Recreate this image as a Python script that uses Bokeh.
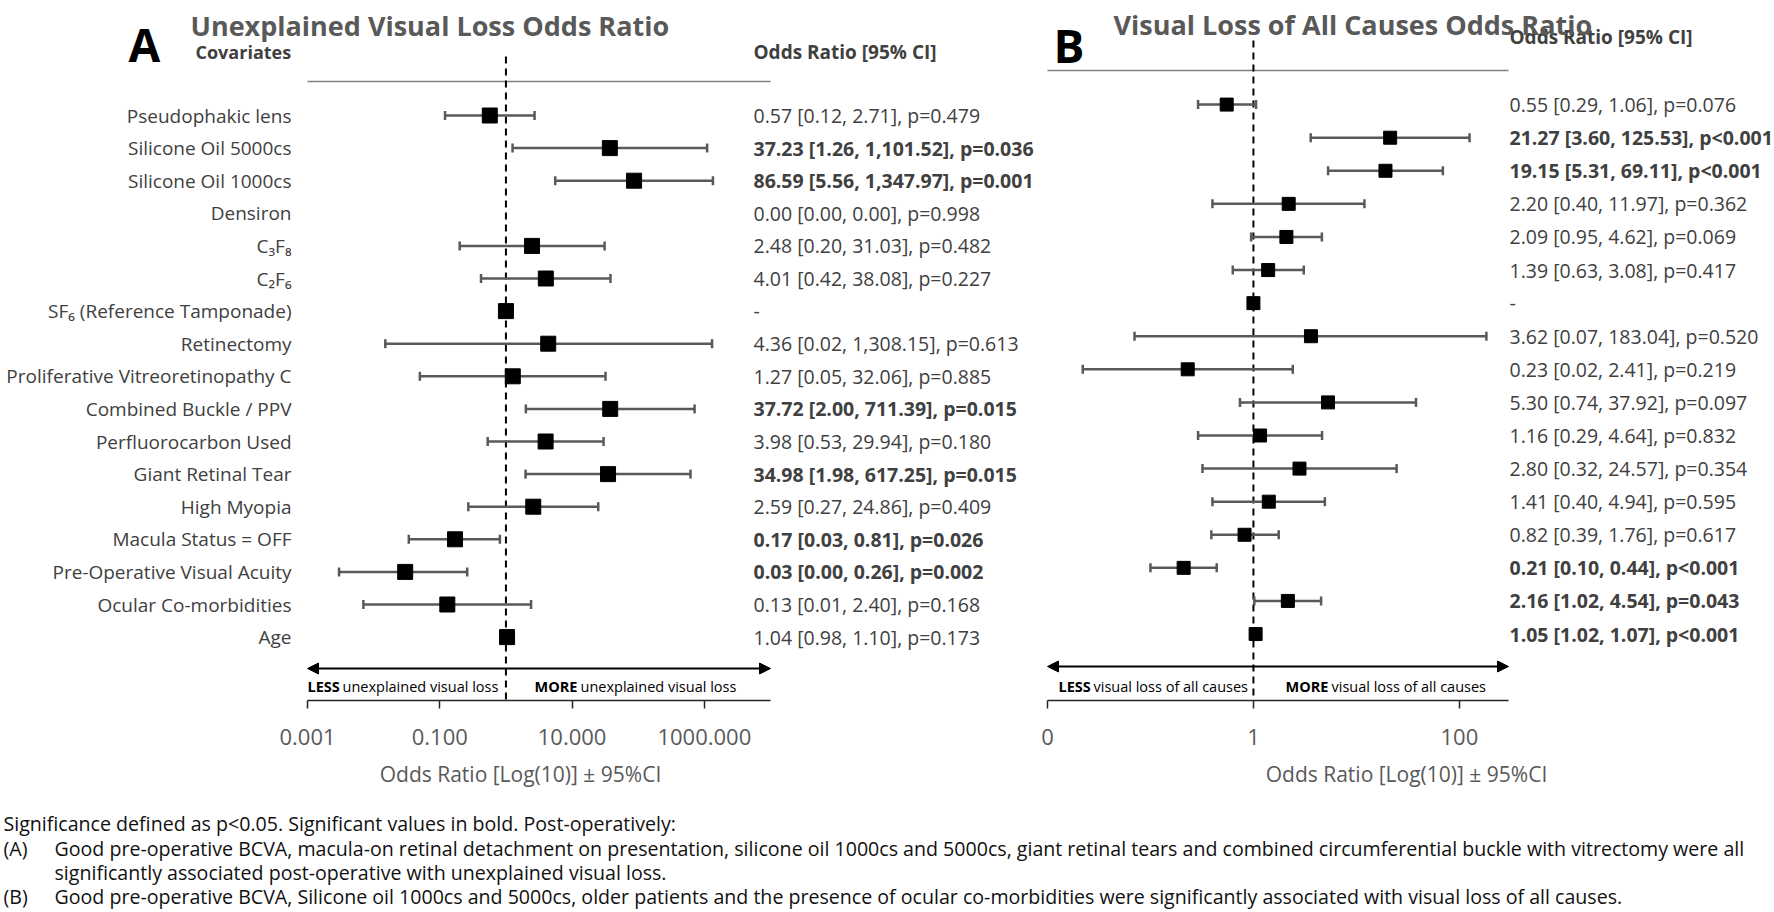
import numpy as np
from bokeh.plotting import figure
from bokeh.models import (ColumnDataSource, Range1d, LogScale, LogAxis, FixedTicker,
                          Arrow, NormalHead)
from bokeh.layouts import column, row
from bokeh.core.properties import value
from bokeh.embed import file_html
from bokeh.resources import INLINE

NaN = float("nan")

# ---------------- data ----------------
covariates = ["Pseudophakic lens", "Silicone Oil 5000cs", "Silicone Oil 1000cs", "Densiron",
              "C\u2083F\u2088", "C\u2082F\u2086", "SF\u2086 (Reference Tamponade)", "Retinectomy",
              "Proliferative Vitreoretinopathy C", "Combined Buckle / PPV", "Perfluorocarbon Used",
              "Giant Retinal Tear", "High Myopia", "Macula Status = OFF",
              "Pre-Operative Visual Acuity", "Ocular Co-morbidities", "Age"]

# Panel A: unexplained visual loss
or_a = [0.57, 37.23, 86.59, NaN, 2.48, 4.01, 1.0, 4.36, 1.27, 37.72, 3.98, 34.98, 2.59, 0.17, 0.03, 0.13, 1.04]
lo_a = [0.12, 1.26, 5.56, NaN, 0.20, 0.42, NaN, 0.015, 0.05, 2.00, 0.53, 1.98, 0.27, 0.034, 0.003, 0.007, 0.98]
hi_a = [2.71, 1101.52, 1347.97, NaN, 31.03, 38.08, NaN, 1308.15, 32.06, 711.39, 29.94, 617.25, 24.86, 0.81, 0.26, 2.40, 1.10]
txt_a = ["0.57 [0.12, 2.71], p=0.479", "37.23 [1.26, 1,101.52], p=0.036", "86.59 [5.56, 1,347.97], p=0.001",
         "0.00 [0.00, 0.00], p=0.998", "2.48 [0.20, 31.03], p=0.482", "4.01 [0.42, 38.08], p=0.227", "-",
         "4.36 [0.02, 1,308.15], p=0.613", "1.27 [0.05, 32.06], p=0.885", "37.72 [2.00, 711.39], p=0.015",
         "3.98 [0.53, 29.94], p=0.180", "34.98 [1.98, 617.25], p=0.015", "2.59 [0.27, 24.86], p=0.409",
         "0.17 [0.03, 0.81], p=0.026", "0.03 [0.00, 0.26], p=0.002", "0.13 [0.01, 2.40], p=0.168",
         "1.04 [0.98, 1.10], p=0.173"]
sig_a = [False, True, True, False, False, False, False, False, False, True, False, True, False, True, True, False, False]

# Panel B: visual loss of all causes
or_b = [0.55, 21.27, 19.15, 2.20, 2.09, 1.39, 1.0, 3.62, 0.23, 5.30, 1.16, 2.80, 1.41, 0.82, 0.21, 2.16, 1.05]
lo_b = [0.29, 3.60, 5.31, 0.40, 0.95, 0.63, NaN, 0.07, 0.022, 0.74, 0.29, 0.32, 0.40, 0.39, 0.10, 1.02, 1.02]
hi_b = [1.06, 125.53, 69.11, 11.97, 4.62, 3.08, NaN, 183.04, 2.41, 37.92, 4.64, 24.57, 4.94, 1.76, 0.44, 4.54, 1.07]
txt_b = ["0.55 [0.29, 1.06], p=0.076", "21.27 [3.60, 125.53], p<0.001", "19.15 [5.31, 69.11], p<0.001",
         "2.20 [0.40, 11.97], p=0.362", "2.09 [0.95, 4.62], p=0.069", "1.39 [0.63, 3.08], p=0.417", "-",
         "3.62 [0.07, 183.04], p=0.520", "0.23 [0.02, 2.41], p=0.219", "5.30 [0.74, 37.92], p=0.097",
         "1.16 [0.29, 4.64], p=0.832", "2.80 [0.32, 24.57], p=0.354", "1.41 [0.40, 4.94], p=0.595",
         "0.82 [0.39, 1.76], p=0.617", "0.21 [0.10, 0.44], p<0.001", "2.16 [1.02, 4.54], p=0.043",
         "1.05 [1.02, 1.07], p<0.001"]
sig_b = [False, True, True, False, False, False, False, False, False, False, False, False, False, False, True, True, True]

ticks_a = [0.001, 0.1, 10, 1000]
tick_labels_a = ["0.001", "0.100", "10.000", "1000.000"]
bounds_a = (0.001, 10000)
ticks_b = [0.01, 1, 100]
tick_labels_b = ["0", "1", "100"]
bounds_b = (0.01, 300)
ref_or = 1.0

title_a = "Unexplained Visual Loss Odds Ratio"
title_b = "Visual Loss of All Causes Odds Ratio"
less_a = ["LESS", "unexplained visual loss", "MORE", "unexplained visual loss"]
less_b = ["LESS", "visual loss of all causes", "MORE", "visual loss of all causes"]
axis_title = "Odds Ratio [Log(10)] \u00b1 95%CI"
foot_lines = ["Significance defined as p<0.05. Significant values in bold. Post-operatively:",
              "Good pre-operative BCVA, macula-on retinal detachment on presentation, silicone oil 1000cs and 5000cs, giant retinal tears and combined circumferential buckle with vitrectomy were all",
              "significantly associated post-operative with unexplained visual loss.",
              "Good pre-operative BCVA, Silicone oil 1000cs and 5000cs, older patients and the presence of ocular co-morbidities were significantly associated with visual loss of all causes."]
foot_tags = ["(A)", "(B)"]

# ---------------- style / layout ----------------
FONT = "Open Sans"
TXT = "#404040"
GREY = "#595959"
FRAME_BOTTOM = 700
TOP = 0
H_ROW = 800
H_NOTE = 111
W_A = 1040
W_B = 732


def txt(p, x, y, text, size, color=TXT, align="left", baseline="middle", style="normal", source=None):
    kw = dict(text_font=value(FONT), text_font_size=value(size), text_color=color,
              text_align=value(align), text_baseline=value(baseline), text_font_style=value(style))
    if source is not None:
        return p.text(x=x, y=y, text=text, source=source, **kw)
    return p.text(x=x, y=y, text=text, **kw)


def panel(cfg):
    left, right = cfg["left"], cfg["right"]
    p = figure(width=right - left, height=H_ROW, x_range=Range1d(left, right),
               y_range=Range1d(FRAME_BOTTOM, TOP), x_axis_type=None, y_axis_type=None,
               toolbar_location=None, output_backend="svg", title=None,
               min_border_left=0, min_border_right=0, min_border_top=0,
               min_border_bottom=H_ROW - FRAME_BOTTOM,
               outline_line_color=None, background_fill_color="white", border_fill_color="white")
    b0, b1 = cfg["bounds"]
    ax0, ax1 = cfg["axis_px"]
    lmin, lmax = np.log10(b0), np.log10(b1)
    per = (lmax - lmin) / (ax1 - ax0)
    p.extra_x_ranges = {"log": Range1d(10 ** (lmin - (ax0 - left) * per), 10 ** (lmax + (right - ax1) * per))}
    p.extra_x_scales = {"log": LogScale()}

    n = len(covariates)
    ys = [cfg["row_top"] + i * cfg["row_step"] for i in range(n)]
    src = ColumnDataSource(dict(y=ys, orv=np.array(cfg["or"], dtype=float),
                                lo=np.array(cfg["lo"], dtype=float), hi=np.array(cfg["hi"], dtype=float),
                                cov=covariates, txt=cfg["txt"]))
    # header rule and reference line
    p.segment(x0=[b0], x1=[b1], y0=[cfg["hdr_line"]], y1=[cfg["hdr_line"]], x_range_name="log",
              line_color="#7f7f7f", line_width=1.5)
    p.segment(x0=[ref_or], x1=[ref_or], y0=[cfg["dash_top"]], y1=[FRAME_BOTTOM], x_range_name="log",
              line_color="black", line_width=2, line_dash="7 5")
    # CI whiskers with caps, then OR squares
    p.segment(x0="lo", x1="hi", y0="y", y1="y", source=src, x_range_name="log",
              line_color=GREY, line_width=2.5)
    for c in ("lo", "hi"):
        p.scatter(x=c, y="y", source=src, x_range_name="log", marker="dash", angle=np.pi / 2,
                  size=9, line_color=GREY, line_width=2.5)
    p.scatter(x="orv", y="y", source=src, x_range_name="log", marker="square",
              size=cfg["msize"], fill_color="black", line_color="black")

    # double arrow with direction captions
    p.add_layout(Arrow(start=NormalHead(size=11, fill_color="black", line_color="black"),
                       end=NormalHead(size=11, fill_color="black", line_color="black"),
                       x_start=b0, x_end=b1, y_start=cfg["arrow_y"], y_end=cfg["arrow_y"],
                       x_range_name="log", line_color="black", line_width=2))
    lx = cfg["less_x"]
    for i, t in enumerate(cfg["less"]):
        txt(p, [lx[i]], [cfg["less_y"]], [t], "14.5px", color="black",
            style="bold" if i % 2 == 0 else "normal")

    # labels & values
    if cfg["labels"]:
        txt(p, cfg["label_x"], "y", "cov", "19px", align="right", source=src)
        txt(p, [cfg["cov_hdr_x"]], [cfg["hdr_y"]], ["Covariates"], "18px", style="bold")
    sig = cfg["sig"]
    for flag, style in ((False, "normal"), (True, "bold")):
        idx = [i for i in range(n) if sig[i] == flag]
        s = ColumnDataSource(dict(y=[ys[i] for i in idx], t=[cfg["txt"][i] for i in idx]))
        txt(p, cfg["val_x"], "y", "t", "19.5px", style=style, source=s)
    txt(p, [cfg["val_x"]], [cfg["or_hdr_y"]], ["Odds Ratio [95% CI]"], "19px", style="bold")

    # panel letter and title
    txt(p, [cfg["letter_x"]], [cfg["letter_y"]], [cfg["letter"]], "46px", color="black",
        baseline="alphabetic", style="bold")
    txt(p, [cfg["title_x"]], [cfg["title_y"]], [cfg["title"]], "27px", color=GREY,
        baseline="alphabetic", style="bold")

    ax = LogAxis(x_range_name="log", bounds=cfg["bounds"], ticker=FixedTicker(ticks=cfg["ticks"]),
                 major_label_overrides={t: l for t, l in zip(cfg["ticks"], cfg["tick_labels"])},
                 axis_label=axis_title)
    ax.major_tick_in = 0
    ax.major_tick_out = 8
    ax.minor_tick_in = 0
    ax.minor_tick_out = 0
    ax.axis_line_color = "#262626"
    ax.axis_line_width = 1.5
    ax.major_tick_line_color = "#262626"
    ax.major_tick_line_width = 1.5
    ax.major_label_text_font = FONT
    ax.major_label_text_font_size = "22px"
    ax.major_label_text_color = GREY
    ax.major_label_standoff = 20
    ax.axis_label_text_font = FONT
    ax.axis_label_text_font_size = "21px"
    ax.axis_label_text_font_style = "normal"
    ax.axis_label_text_color = GREY
    ax.axis_label_standoff = 12
    p.add_layout(ax, "below")
    return p


pA = panel(dict(left=0, right=W_A, bounds=bounds_a, axis_px=(307, 770), row_top=115, row_step=32.6,
                **{"or": or_a}, lo=lo_a, hi=hi_a, txt=txt_a, sig=sig_a, msize=15,
                hdr_line=81, dash_top=56, arrow_y=668, less=less_a, less_x=[307, 342, 534, 580],
                less_y=686, labels=True, label_x=291, cov_hdr_x=195, hdr_y=51, val_x=753,
                or_hdr_y=51, letter="A", letter_x=128, letter_y=43, title=title_a, title_x=190,
                title_y=25, ticks=ticks_a, tick_labels=tick_labels_a))
pB = panel(dict(left=W_A, right=W_A + W_B, bounds=bounds_b, axis_px=(1047, 1508), row_top=104.1,
                row_step=33.09, **{"or": or_b}, lo=lo_b, hi=hi_b, txt=txt_b, sig=sig_b, msize=13,
                hdr_line=70, dash_top=40, arrow_y=666, less=less_b, less_x=[1058, 1093, 1285, 1331],
                less_y=686, labels=False, val_x=1509, or_hdr_y=36, hdr_y=36, letter="B",
                letter_x=1053, letter_y=44, title=title_b, title_x=1113, title_y=24,
                ticks=ticks_b, tick_labels=tick_labels_b))

pN = figure(width=W_A + W_B, height=H_NOTE, x_range=Range1d(0, W_A + W_B),
            y_range=Range1d(H_ROW + H_NOTE, H_ROW),
            x_axis_type=None, y_axis_type=None, toolbar_location=None, output_backend="svg",
            title=None, min_border=0, outline_line_color=None)
NOTE_SIZE = "19.6px"
NOTE_COL = "#111111"
txt(pN, [3], [823], [foot_lines[0]], NOTE_SIZE, color=NOTE_COL)
txt(pN, [3, 3], [848, 896], foot_tags, NOTE_SIZE, color=NOTE_COL)
txt(pN, [54, 54, 54], [848, 872, 896], foot_lines[1:], NOTE_SIZE, color=NOTE_COL)

layout = column(row(pA, pB), pN)
open("out.html", "w").write(file_html(layout, INLINE))
